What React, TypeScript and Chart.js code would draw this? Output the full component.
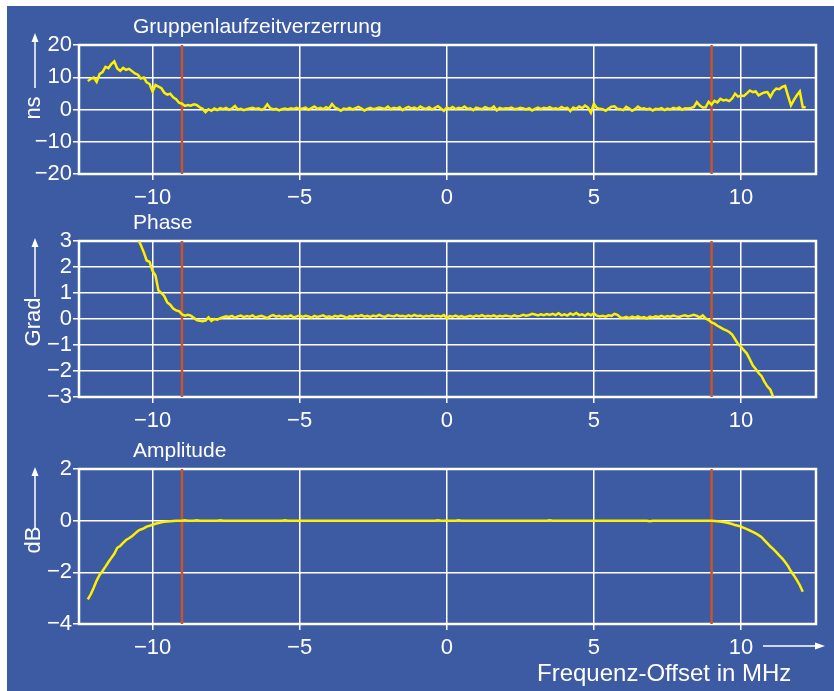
import React, { useEffect, useRef } from "react";
import { Chart, registerables } from "chart.js";

Chart.register(...registerables);

// ---------- data ----------
const FREQ_MIN = -12.5;
const FREQ_MAX = 12.55;
const FREQ_TICKS = [-10, -5, 0, 5, 10];
const MARKER_FREQS = [-9, 9];
const SAMPLE_STEP = 0.1;

const GD_START = -12.2;
const GD_TICKS = [-20, -10, 0, 10, 20];
const GD_VALUES = [
  8.8, 9.5, 9.9, 8.6, 11.0, 11.6, 13.2, 12.8, 14.1, 14.9,
  12.7, 12.0, 12.9, 12.3, 12.6, 11.9, 11.2, 10.8, 9.6, 9.9,
  8.4, 7.9, 5.6, 7.6, 7.1, 6.6, 5.2, 4.6, 4.9, 3.8,
  3.2, 2.1, 1.8, 1.1, 1.4, 1.2, 1.6, 1.4, 0.7, 0.2,
  -0.8, 0.1, -0.4, 0.3, -0.2, 0.4, 0.1, 0.5, -0.1, 0.3,
  1.1, 0.0, 0.2, -0.2, 0.1, 0.3, 0.5, 0.2, 0.4, -0.1,
  0.3, 1.6, 0.4, 0.0, 0.2, -0.3, 0.1, 0.3, 0.0, 0.4,
  0.2, 0.5, 0.1, 0.3, 0.6, -0.1, 0.4, 0.9, 0.2, 0.5,
  0.1, 0.7, 0.3, 1.7, 0.6, 0.2, -0.4, 0.3, 0.1, 0.5,
  0.0, 0.4, 0.8, 0.3, -0.3, 0.2, 0.5, 0.1, 0.3, 0.6,
  0.4, 0.2, 0.9, 0.1, 0.5, 0.3, 0.7, -0.2, 0.4, 0.8,
  0.3, 0.6, 0.1, 0.9, 0.4, 0.2, 0.7, 0.0, 0.5, 1.0,
  0.3, -0.4, 0.6, 0.2, 0.8, 0.1, 0.5, 0.3, 0.9, 0.2,
  0.4, -0.2, 0.6, 0.3, 0.1, 0.7, 0.4, 0.2, 0.9, -0.3,
  0.5, 0.2, 0.4, 0.3, 0.6, 0.1, 0.2, 0.5, 0.3, 0.0,
  0.4, -0.3, 0.2, 0.6, 0.1, 0.5, 0.3, 0.7, 0.2, 0.4,
  0.1, 0.8, 0.3, 0.5, -0.5, 0.6, 0.2, 0.9, 0.4, 1.2,
  0.6, -1.0, 1.8, 0.5, 0.2, 0.1, -0.4, 0.3, 0.9, 1.0,
  0.2, 0.1, -0.2, 0.8, 0.3, -0.4, 0.1, 0.9, 0.2, 0.4,
  0.0, 0.3, -0.3, 0.2, 0.1, 0.4, -0.2, 0.3, 0.0, 0.5,
  0.2, 0.6, -0.1, 0.4, 0.3, 0.5, 0.8, 2.3, 1.2, 0.6,
  0.7, 2.4, 1.5, 2.7, 2.2, 3.3, 2.8, 3.0, 2.6, 3.4,
  4.9, 4.0, 4.3, 4.2, 5.0, 5.9, 5.4, 5.6, 4.4, 4.9,
  5.3, 5.4, 3.9, 5.6, 6.5, 6.3, 7.0, 7.3, 4.2, 1.3,
  3.0, 4.4, 5.6, 0.7, 0.7,
];

const PHASE_START = -10.5;
const PHASE_TICKS = [-3, -2, -1, 0, 1, 2, 3];
const PHASE_VALUES = [
  3.1, 2.85, 2.57, 2.25, 2.2, 1.85, 1.67, 1.1, 1.0, 0.88,
  0.64, 0.55, 0.4, 0.33, 0.3, 0.18, 0.13, 0.16, 0.13, 0.05,
  -0.04, -0.07, -0.09, -0.06, 0.06, -0.07, 0.0, -0.03, 0.03, 0.07,
  0.1, 0.08, 0.12, 0.05, 0.1, 0.13, 0.07, 0.11, 0.09, 0.14,
  0.06, 0.1, 0.12, 0.08, 0.03, 0.11, 0.15, 0.09, 0.12, 0.07,
  0.11, 0.09, 0.14, 0.06, 0.1, 0.13, 0.08, 0.12, 0.1, 0.05,
  0.12, 0.08, 0.11, 0.14, 0.07, 0.1, 0.06, 0.12, 0.09, 0.13,
  0.1, 0.04, 0.11, 0.08, 0.13, 0.1, 0.15, 0.09, 0.12, 0.08,
  0.13, 0.1, 0.16, 0.11, 0.08, 0.14, 0.12, 0.1, 0.15, 0.11,
  0.12, 0.09, 0.14, 0.1, 0.16, 0.11, 0.13, 0.08, 0.12, 0.1,
  0.14, 0.1, 0.12, 0.09, 0.15, 0.03, 0.11, 0.09, 0.13, 0.08,
  0.11, 0.07, 0.1, 0.12, 0.08, 0.13, 0.1, 0.15, 0.09, 0.12,
  0.1, 0.14, 0.08, 0.12, 0.1, 0.13, 0.11, 0.09, 0.14, 0.1,
  0.12, 0.16, 0.13, 0.15, 0.2, 0.17, 0.14, 0.18, 0.15, 0.19,
  0.16, 0.2, 0.15, 0.22, 0.14, 0.18, 0.13, 0.21, 0.16, 0.23,
  0.15, 0.18, 0.12, 0.2, 0.14, 0.22, 0.13, 0.1, 0.12, 0.09,
  0.14, 0.12, 0.2, 0.16, 0.06, 0.04, 0.08, 0.03, 0.09, 0.05,
  0.1, 0.04, 0.07, 0.02, 0.09, 0.06, 0.1, 0.08, 0.12, 0.07,
  0.11, 0.09, 0.13, 0.1, 0.08, 0.12, 0.14, 0.1, 0.13, 0.16,
  0.12, 0.06, 0.14, 0.02, -0.04, -0.13, -0.18, -0.26, -0.32, -0.39,
  -0.44, -0.5, -0.6, -0.78, -0.96, -1.07, -1.2, -1.33, -1.55, -1.78,
  -1.92, -2.08, -2.2, -2.42, -2.6, -2.72, -3.02,
];

const AMP_START = -12.2;
const AMP_TICKS = [-4, -2, 0, 2];
const AMP_VALUES = [
  -3.05, -2.85, -2.6, -2.32, -2.1, -1.95, -1.78, -1.6, -1.44, -1.28,
  -1.05, -0.98, -0.86, -0.75, -0.68, -0.6, -0.5, -0.4, -0.34, -0.3,
  -0.23, -0.2, -0.16, -0.12, -0.09, -0.06, -0.04, -0.03, -0.02, -0.01,
  0, 0, 0, 0.02, 0, 0, 0, 0.02, 0, 0,
  0, 0, 0, 0, 0, 0.02, 0, 0, 0, 0,
  0, 0, 0, 0, 0, 0, 0, 0, 0, 0,
  0, 0, 0, 0, 0, 0, 0, 0.02, 0, 0,
  0, 0, 0, 0, 0, 0, 0, 0, 0, 0,
  0, 0, 0, 0, 0, 0, 0, 0, 0, 0,
  0, 0, 0, 0, 0, 0, 0, 0, 0, 0,
  0, 0, 0, 0, 0, 0, 0, 0, 0, 0,
  0, 0, 0, 0, 0, 0, 0, 0, 0, 0.02,
  0, 0, 0, 0, 0, 0, 0.02, 0, 0, 0,
  0, 0, 0, 0, 0, 0, 0, 0, 0, 0,
  0, 0, 0, 0, 0, 0, 0, 0, 0, 0,
  0, 0, 0, 0, 0, 0, 0, 0.02, 0, 0,
  0, 0, 0, 0, 0, 0, 0, 0, 0, 0,
  0, 0, 0, 0, 0, 0, 0, 0, 0, 0,
  0, 0, 0, 0, 0, 0, 0, 0, 0, 0,
  0, -0.02, 0, 0, 0, 0, 0, 0, 0, 0,
  0, 0, 0, 0, 0, 0, 0, 0, 0, 0,
  0, 0, 0, -0.01, -0.02, -0.03, -0.05, -0.07, -0.1, -0.13,
  -0.17, -0.2, -0.23, -0.28, -0.33, -0.38, -0.43, -0.49, -0.56, -0.64,
  -0.76, -0.88, -1.0, -1.1, -1.22, -1.34, -1.46, -1.6, -1.76, -1.96,
  -2.12, -2.3, -2.5, -2.75,
];

const TITLES = ["Gruppenlaufzeitverzerrung", "Phase", "Amplitude"];
const Y_LABELS = ["ns", "Grad", "dB"];
const X_TITLE = "Frequenz-Offset in MHz";

// ---------- styling / layout ----------
const W = 827;
const H = 685;
const BG = "#3d5ba3";
const YELLOW = "#fff000";
const RED = "#c9542a";
const WHITE = "#ffffff";
const FONT = '"Liberation Sans", Arial, Helvetica, sans-serif';
const Y_AXIS_W = 72;
const X_AXIS_H = 40;
const RIGHT_PAD = 18;

type Panel = {
  values: number[];
  start: number;
  ticks: number[];
  title: string;
  yLabel: string;
  top: number;
  bottom: number;
  labelY: number;
  arrowBottom: number;
  arrowTip: number;
  last: boolean;
};

const PANELS: Panel[] = [
  { values: GD_VALUES, start: GD_START, ticks: GD_TICKS, title: TITLES[0], yLabel: Y_LABELS[0], top: 39, bottom: 168, labelY: 63, arrowBottom: 43, arrowTip: -12, last: false },
  { values: PHASE_VALUES, start: PHASE_START, ticks: PHASE_TICKS, title: TITLES[1], yLabel: Y_LABELS[1], top: 235, bottom: 391, labelY: 81, arrowBottom: 56, arrowTip: -3, last: false },
  { values: AMP_VALUES, start: AMP_START, ticks: AMP_TICKS, title: TITLES[2], yLabel: Y_LABELS[2], top: 463, bottom: 618, labelY: 71, arrowBottom: 59, arrowTip: -2, last: true },
];

const fmt = (v: number | string) => {
  const n = Number(v);
  return n < 0 ? "\u2212" + Math.abs(n) : String(n);
};

function arrowUp(ctx: CanvasRenderingContext2D, x: number, y0: number, y1: number) {
  ctx.beginPath();
  ctx.moveTo(x, y0);
  ctx.lineTo(x, y1 + 7);
  ctx.stroke();
  ctx.beginPath();
  ctx.moveTo(x, y1);
  ctx.lineTo(x - 3.5, y1 + 9);
  ctx.lineTo(x + 3.5, y1 + 9);
  ctx.closePath();
  ctx.fill();
}

function arrowRight(ctx: CanvasRenderingContext2D, x0: number, x1: number, y: number) {
  ctx.beginPath();
  ctx.moveTo(x0, y);
  ctx.lineTo(x1 - 7, y);
  ctx.stroke();
  ctx.beginPath();
  ctx.moveTo(x1, y);
  ctx.lineTo(x1 - 10, y - 3.5);
  ctx.lineTo(x1 - 10, y + 3.5);
  ctx.closePath();
  ctx.fill();
}

function makePlugin(p: Panel) {
  return {
    id: "decor",
    beforeDatasetsDraw(chart: any) {
      const { ctx, chartArea: a } = chart;
      ctx.save();
      ctx.strokeStyle = WHITE;
      ctx.lineWidth = 2.5;
      ctx.strokeRect(a.left, a.top, a.right - a.left, a.bottom - a.top);
      ctx.restore();
    },
    afterDraw(chart: any) {
      const { ctx, chartArea: a } = chart;
      ctx.save();
      ctx.fillStyle = WHITE;
      ctx.strokeStyle = WHITE;
      ctx.lineWidth = 1.5;
      // panel title
      ctx.font = `21px ${FONT}`;
      ctx.textAlign = "left";
      ctx.textBaseline = "alphabetic";
      ctx.fillText(p.title, 126, a.top - 12);
      // rotated y label
      ctx.save();
      ctx.translate(32.5, a.top + p.labelY);
      ctx.rotate(-Math.PI / 2);
      ctx.font = `22px ${FONT}`;
      ctx.textAlign = "center";
      ctx.fillText(p.yLabel, 0, 0);
      ctx.restore();
      arrowUp(ctx, 28, a.top + p.arrowBottom, a.top + p.arrowTip);
      if (p.last) {
        arrowRight(ctx, 756, 818, 640);
        ctx.font = `24px ${FONT}`;
        ctx.textAlign = "left";
        ctx.fillText(X_TITLE, 530, 675);
      }
      ctx.restore();
    },
  };
}

function PanelChart({ p }: { p: Panel }) {
  const ref = useRef<HTMLCanvasElement | null>(null);
  useEffect(() => {
    if (!ref.current) return;
    const yMin = p.ticks[0];
    const yMax = p.ticks[p.ticks.length - 1];
    const series = p.values.map((v, i) => ({ x: p.start + i * SAMPLE_STEP, y: v }));
    const markers = MARKER_FREQS.map((f) => ({
      data: [{ x: f, y: yMin }, { x: f, y: yMax }],
      borderColor: RED,
      borderWidth: 2.5,
      pointRadius: 0,
    }));
    const tickFont = { family: FONT, size: 22 };
    const grid = { color: WHITE, lineWidth: 1.5, tickLength: 6, drawTicks: true };
    const chart = new Chart(ref.current, {
      type: "line",
      data: {
        datasets: [
          { data: series, borderColor: YELLOW, borderWidth: 2.5, pointRadius: 0, tension: 0 },
          ...markers,
        ],
      } as any,
      options: {
        responsive: false,
        animation: false,
        events: [],
        layout: { padding: { left: 0, right: RIGHT_PAD, top: p.top, bottom: H - p.bottom - X_AXIS_H } },
        plugins: { legend: { display: false }, tooltip: { enabled: false } },
        scales: {
          x: {
            type: "linear",
            min: FREQ_MIN,
            max: FREQ_MAX,
            afterBuildTicks: (s: any) => { s.ticks = FREQ_TICKS.map((v) => ({ value: v })); },
            afterFit: (s: any) => { s.height = X_AXIS_H; },
            grid,
            border: { display: false },
            ticks: { color: WHITE, font: tickFont, padding: 5, maxRotation: 0, autoSkip: false, callback: fmt },
          },
          y: {
            type: "linear",
            min: yMin,
            max: yMax,
            afterBuildTicks: (s: any) => { s.ticks = p.ticks.map((v) => ({ value: v })); },
            afterFit: (s: any) => { s.width = Y_AXIS_W; },
            grid,
            border: { display: false },
            ticks: { color: WHITE, font: tickFont, padding: 1, autoSkip: false, callback: fmt },
          },
        },
      } as any,
      plugins: [makePlugin(p)],
    });
    return () => chart.destroy();
  }, [p]);
  return (
    <canvas
      ref={ref}
      width={W}
      height={H}
      style={{ position: "absolute", left: 0, top: 0, width: W, height: H, display: "block" }}
    />
  );
}

export default function App() {
  return (
    <div style={{ position: "absolute", left: 7, top: 6, width: W, height: H, background: BG, overflow: "hidden" }}>
      {PANELS.map((p, i) => (
        <PanelChart key={i} p={p} />
      ))}
    </div>
  );
}
